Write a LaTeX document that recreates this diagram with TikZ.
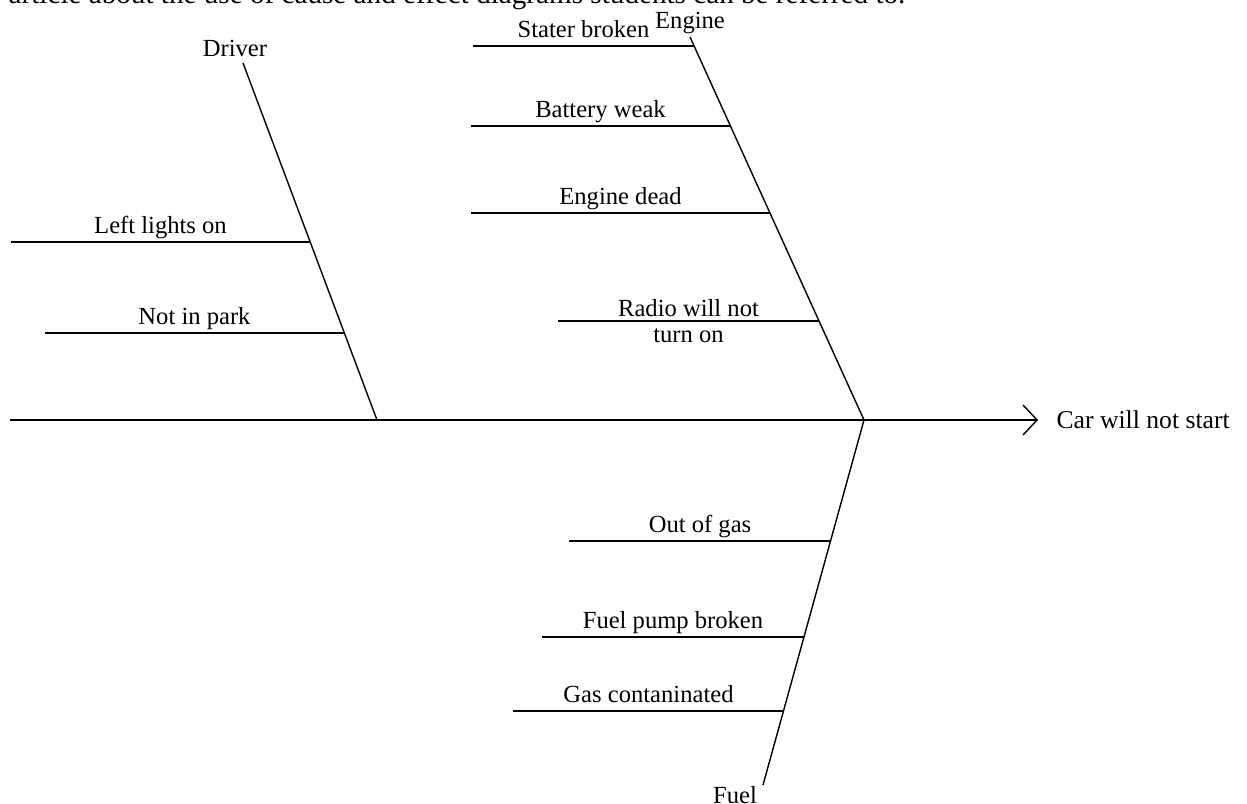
\documentclass[tikz,border=0pt]{standalone}
\usepackage{fontspec}
\setmainfont{Liberation Serif}
\usetikzlibrary{arrows.meta,positioning}

\begin{document}
\begin{tikzpicture}[x=0.02cm,y=-0.02cm,line width=0.8pt,
  font=\fontsize{14}{15}\selectfont,
  cause/.style={above,inner sep=2.5pt,text depth=0.22em}]
  \useasboundingbox (0,0) rectangle (1247,804);
  \clip (0,0) rectangle (1247,804);

  % page text, cut off at the top
  \node[anchor=base west,inner sep=0pt,font=\fontsize{16.6}{18}\selectfont] (pagetext) at (8,4)
    {article about the use of cause and effect diagrams students can be referred to.};

  % spine
  \coordinate (tail) at (10,420);
  \coordinate (head) at (864,420);
  \coordinate (tip)  at (1038,420);
  \draw[-{Straight Barb[length=0.28cm,width=0.6cm]}] (tail) -- (tip);
  \node[right=0.24cm of tip,font=\fontsize{14.6}{16}\selectfont] (effect) {Car will not start};

  % Driver
  \coordinate (drvtop)  at (243,63);
  \coordinate (drvfoot) at (377,420);
  \node[above=0pt of drvtop,xshift=-0.16cm] (driver) {Driver};
  \draw (drvtop) -- (drvfoot);
  \coordinate (lights)  at (11,242);
  \coordinate (lightsb) at (310,242);
  \coordinate (park)    at (45,333);
  \coordinate (parkb)   at (344,333);
  \draw (lights) -- node[cause] {Left lights on} (lightsb);
  \draw (park)   -- node[cause] {Not in park} (parkb);

  % Engine
  \coordinate (engtop) at (690,37);
  \node[above=-2pt of engtop] (engine) {Engine};
  \draw (engtop) -- (head);
  \coordinate (stater)   at (473,46);
  \coordinate (staterb)  at (694,46);
  \coordinate (battery)  at (471,126);
  \coordinate (batteryb) at (730,126);
  \coordinate (dead)     at (471,213);
  \coordinate (deadb)    at (770,213);
  \coordinate (radio)    at (558,321);
  \coordinate (radiob)   at (819,321);
  \draw (stater)  -- node[cause] {Stater broken} (staterb);
  \draw (battery) -- node[cause] {Battery weak} (batteryb);
  \draw (dead)    -- node[cause] {Engine dead} (deadb);
  \draw (radio)   -- node[align=center,inner sep=0pt] {Radio will not\\turn on} (radiob);

  % Fuel
  \coordinate (fuelend) at (763,785);
  \node (fuel) at (735,795) {Fuel};
  \draw (head) -- (fuelend);
  \coordinate (outgas)  at (569,541);
  \coordinate (outgasb) at (831,541);
  \coordinate (pump)    at (542,637);
  \coordinate (pumpb)   at (804,637);
  \coordinate (dirty)   at (513,711);
  \coordinate (dirtyb)  at (784,711);
  \draw (outgas) -- node[cause] {Out of gas} (outgasb);
  \draw (pump)   -- node[cause] {Fuel pump broken} (pumpb);
  \draw (dirty)  -- node[cause] {Gas contaninated} (dirtyb);
\end{tikzpicture}
\end{document}
